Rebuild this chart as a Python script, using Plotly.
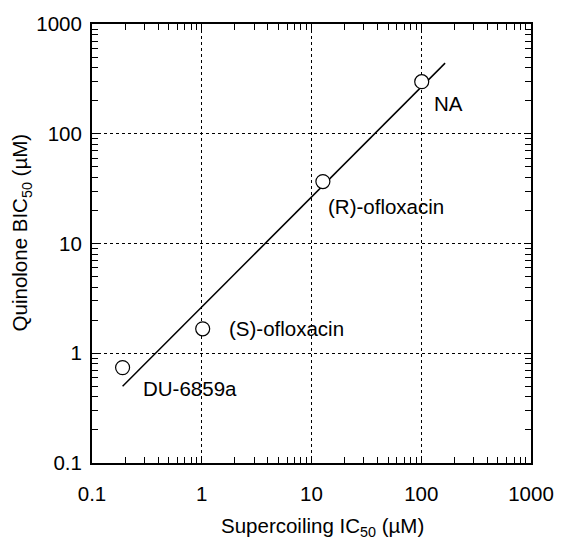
import math
import plotly.graph_objects as go

# Data
compounds = ["DU-6859a", "(S)-ofloxacin", "(R)-ofloxacin", "NA"]
supercoiling_ic50 = [0.19, 1.02, 12.7, 101]
quinolone_bic50 = [0.74, 1.67, 36.7, 298]
fit_x = [0.19, 165]
fit_y = [0.50, 440]
tick_vals = [0.1, 1, 10, 100, 1000]
tick_text = ["0.1", "1", "10", "100", "1000"]
x_title = "Supercoiling IC<sub>50</sub> (µM)"
y_title = "Quinolone BIC<sub>50</sub> (µM)"

label_shift = {
    "DU-6859a": (18, -21),
    "(S)-ofloxacin": (24, 0),
    "(R)-ofloxacin": (3, -25),
    "NA": (10, -22),
}

FONT = "Liberation Sans, Arial, Helvetica, sans-serif"
FS = 20.5

fig = go.Figure()
fig.add_trace(go.Scatter(x=fit_x, y=fit_y, mode="lines",
                         line=dict(color="black", width=1.5),
                         showlegend=False, hoverinfo="skip"))
fig.add_trace(go.Scatter(x=supercoiling_ic50, y=quinolone_bic50, mode="markers",
                         marker=dict(symbol="circle", size=14, color="white",
                                     line=dict(color="black", width=1.2)),
                         showlegend=False))

# annotations on log axes take log10 coordinates
for name, xv, yv in zip(compounds, supercoiling_ic50, quinolone_bic50):
    dx, dy = label_shift[name]
    fig.add_annotation(x=math.log10(xv), y=math.log10(yv), xref="x", yref="y",
                       text=name, showarrow=False,
                       xanchor="left", yanchor="middle", xshift=dx, yshift=dy,
                       font=dict(family=FONT, size=FS, color="black"))

# axis titles
fig.add_annotation(x=0.525, y=-0.145, xref="paper", yref="paper", text=x_title,
                   showarrow=False, xanchor="center", yanchor="middle",
                   font=dict(family=FONT, size=FS, color="black"))
fig.add_annotation(x=-0.162, y=0.525, xref="paper", yref="paper", text=y_title,
                   showarrow=False, xanchor="center", yanchor="middle", textangle=-90,
                   font=dict(family=FONT, size=FS, color="black"))

axis_common = dict(
    type="log",
    showline=True, linecolor="black", linewidth=2, mirror="allticks",
    ticks="inside", ticklen=7, tickwidth=1, tickcolor="black",
    tickvals=tick_vals, ticktext=tick_text,
    tickfont=dict(family=FONT, size=FS, color="black"),
    showgrid=True, gridcolor="black", gridwidth=1, griddash="dot",
    zeroline=False,
    minor=dict(ticks="inside", ticklen=6, tickwidth=1, tickcolor="black",
               dtick="D1", showgrid=False),
)

fig.update_xaxes(**axis_common, range=[-1, 3], ticklabelstandoff=11)
fig.update_yaxes(**axis_common, range=[-1, 3], ticklabelstandoff=4)

fig.update_layout(
    width=566, height=542,
    margin=dict(l=92, r=28, t=19, b=79),
    paper_bgcolor="white", plot_bgcolor="white",
    showlegend=False,
)

fig.write_html("out.html")
